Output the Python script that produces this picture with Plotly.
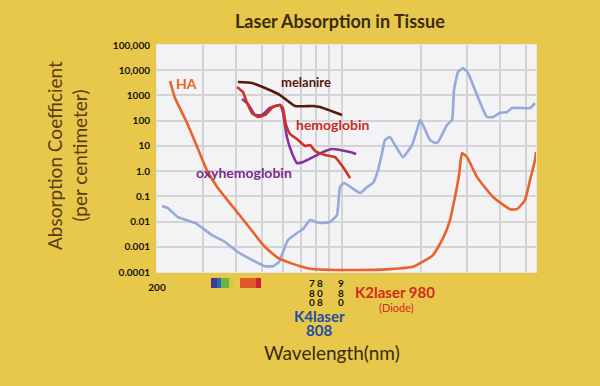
import numpy as np
import plotly.graph_objects as go

# ---------------- data (wavelength nm, absorption coefficient per cm) ----------------
ha_nm = [224, 234, 260, 284, 309, 340, 388, 431, 478, 513, 575, 638, 760, 1077, 1526,
         1865, 2221, 2424, 2576, 2690, 2787, 2860, 2988, 3260, 3748, 4347, 4621, 4954,
         5176, 5407, 5454]
ha_val = [3740, 791, 80.7, 9.0, 1.1, 0.214, 0.038, 0.0096, 0.0024, 0.00098, 0.00036,
          0.00023, 0.000135, 0.00012, 0.00013, 0.00016, 0.00047, 0.0022, 0.0115, 0.094,
          0.70, 5.2, 3.6, 0.58, 0.094, 0.031, 0.031, 0.071, 0.44, 2.75, 5.7]

water_nm = [209, 220, 240, 279, 323, 362, 405, 458, 513, 550, 580, 600, 627, 678, 715,
            760, 801, 843, 904, 961, 987, 1022, 1096, 1175, 1249, 1316, 1375, 1424, 1461,
            1526, 1594, 1709, 1849, 1931, 1983, 2035, 2164, 2260, 2320, 2510, 2621, 2668,
            2762, 2885, 3014, 3204, 3404, 3556, 3748, 3984, 4236, 4425, 4743, 5176, 5407]
water_val = [0.041, 0.034, 0.015, 0.0088, 0.0029, 0.00155, 0.00062, 0.0003, 0.00017,
             0.00017, 0.00025, 0.00062, 0.00185, 0.0035, 0.0051, 0.0115, 0.0096, 0.0088,
             0.0096, 0.018, 0.234, 0.337, 0.214, 0.136, 0.234, 0.337, 1.1, 5.2, 17.1,
             22.5, 10.8, 3.6, 10.8, 42.7, 106, 67.3, 17.1, 13.0, 14.2, 67.3, 106, 1640,
             8490, 12250, 7760, 1640, 348, 140, 140, 201, 220, 318, 318, 318, 501]

mel_nm = [405, 458, 513, 585, 666, 780, 829, 1004]
mel_val = [3410, 3110, 1970, 1040, 381, 381, 348, 168]

hb_nm = [402, 423, 439, 458, 483, 513, 550, 585, 600, 616, 638, 678, 727, 760, 794,
         866, 945, 987, 1031, 1077]
hb_val = [2160, 1370, 501, 201, 140, 168, 348, 418, 318, 67.3, 29.6, 18.7, 9.9, 10.8,
          6.3, 4.35, 3.6, 2.1, 1.1, 0.53]

oxy_nm = [420, 442, 470, 500, 536, 585, 600, 621, 649, 678, 715, 780, 851, 920, 987,
          1077, 1135]
oxy_val = [722, 458, 168, 168, 318, 418, 220, 22.5, 5.2, 2.1, 2.3, 3.6, 5.7, 7.5, 6.9,
           5.7, 4.76]

laser_nm = [780, 808, 980]
laser_digits = ["780", "808", "980"]

x_grid = [200, 300, 400, 500, 600, 700, 800, 900, 1000, 2000, 3000, 4000, 5000]
x_ticktext = ["200"] + [""] * 12
y_ticks = [1e-4, 1e-3, 1e-2, 1e-1, 1, 10, 100, 1000, 1e4, 1e5]
y_ticktext = ["0.0001", "0.001", "0.01", "0.1", "1.0", "10", "100", "1000",
              "10,000", "100,000"]

# ---------------- styling ----------------
BG = "#e8c84a"
FONT = "Lato"
W, H = 600, 386
PL, PR, PT, PB = 157, 536, 45, 272


def px(x):
    return (x - PL) / (PR - PL)


def py(y):
    return (PB - y) / (PB - PT)


fig = go.Figure()

series = [
    (water_nm, water_val, "#93aadb", "water"),
    (ha_nm, ha_val, "#e8622a", "HA"),
    (mel_nm, mel_val, "#571a10", "melanire"),
    (oxy_nm, oxy_val, "#87329a", "oxyhemoglobin"),
    (hb_nm, hb_val, "#cc3322", "hemoglobin"),
]
for xs, ys, col, name in series:
    fig.add_trace(go.Scatter(
        x=xs, y=ys, mode="lines", name=name,
        line=dict(color=col, width=2.6, shape="spline", smoothing=0.4),
        hoverinfo="x+y+name"))

shapes = []
for nm in laser_nm:
    shapes.append(dict(type="line", xref="x", yref="paper",
                       x0=np.log10(nm), x1=np.log10(nm), y0=-0.025, y1=1,
                       line=dict(color="#707070", width=1.6), layer="above"))

# decorative visible-spectrum strip below the axis
spectrum = [(211, 213, "#5b2a7e"), (213, 217, "#3d3a98"), (217, 221, "#2f63b3"),
            (221, 229, "#6cb43c"), (229, 233, "#c9cf3d"), (240, 256, "#e05a28"),
            (256, 261, "#d3203a")]
for x0, x1, c in spectrum:
    shapes.append(dict(type="rect", xref="paper", yref="paper",
                       x0=px(x0), x1=px(x1), y0=py(288), y1=py(278),
                       fillcolor=c, line=dict(width=0), layer="above"))

annotations = []


def ann(text, x, y, size, color, weight="normal", **kw):
    annotations.append(dict(text=text, xref="paper", yref="paper", x=px(x), y=py(y),
                            showarrow=False, xanchor="center", yanchor="middle",
                            font=dict(family=FONT, size=size, color=color,
                                      weight=weight), **kw))


ann("Laser Absorption in Tissue", 340, 21, 18, "#3b2a12", "bold")
ann("Absorption Coefficient<br>(per centimeter)", 67, 156, 19, "#5a3c14", "normal",
    textangle=-90)
ann("Wavelength(nm)", 332, 352, 19, "#3b2a12", "normal")
ann("HA", 186, 83, 14, "#e8622a", "bold")
ann("melanire", 306, 82, 13, "#571a10", "bold")
ann("hemoglobin", 332, 125, 14, "#cc2a1e", "bold")
ann("oxyhemoglobin", 244, 172, 14, "#7b2a8e", "bold")
ann("K4laser", 319, 316, 15, "#1f4ea6", "bold")
ann("808", 319, 330, 15, "#1f4ea6", "bold")
ann("K2laser 980", 395, 292, 15, "#d42a1e", "bold")
ann("(Diode)", 396, 307, 11, "#d42a1e", "normal")

digit_shift = [-1.5, 2.5, 1.5]
for nm, digits, sh in zip(laser_nm, laser_digits, digit_shift):
    for i, d in enumerate(digits):
        annotations.append(dict(text=d, xref="x", yref="paper", x=np.log10(nm),
                                y=py(283 + 9.5 * i), xshift=sh, showarrow=False,
                                xanchor="center", yanchor="middle",
                                font=dict(family=FONT, size=10, color="#111111",
                                          weight="bold")))

fig.update_layout(
    width=W, height=H,
    margin=dict(l=PL, r=W - PR, t=PT, b=H - PB, autoexpand=False),
    paper_bgcolor=BG, plot_bgcolor="#f3f2f4",
    showlegend=False,
    shapes=shapes, annotations=annotations,
    font=dict(family=FONT),
    xaxis=dict(type="log", range=[np.log10(200), np.log10(200) + (PR - PL) / 264],
               tickvals=x_grid, ticktext=x_ticktext, showgrid=True, automargin=False,
               gridcolor="#d4d3d6", gridwidth=1.6, zeroline=False,
               ticks="", ticklabelstandoff=6, showline=True, linecolor="#e6e5e8",
               linewidth=1, mirror=True,
               tickfont=dict(family=FONT, size=10, color="#111111", weight="bold")),
    yaxis=dict(type="log", range=[-4, 5], tickvals=y_ticks, ticktext=y_ticktext,
               showgrid=True, gridcolor="#d4d3d6", gridwidth=1.6, zeroline=False,
               automargin=False,
               ticks="", ticklabelstandoff=4, showline=True, linecolor="#e6e5e8",
               linewidth=1, mirror=True,
               tickfont=dict(family=FONT, size=10, color="#111111", weight="bold")),
)

fig.write_html("out.html", config={"displayModeBar": False},
               post_script="document.body.style.margin='0px';"
                           "document.body.style.background='" + BG + "';")
